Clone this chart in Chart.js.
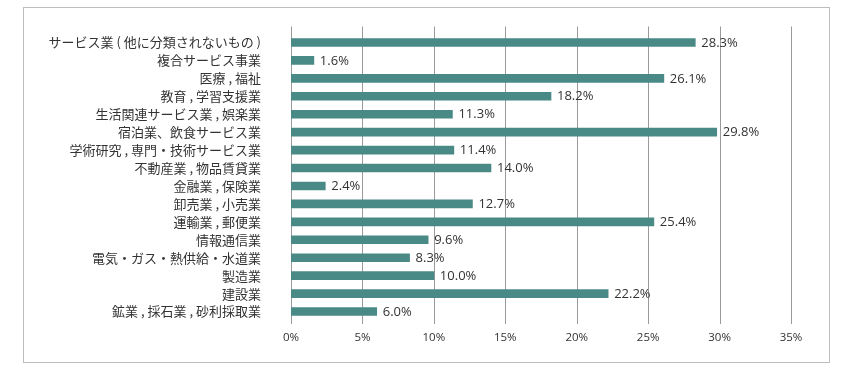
<!DOCTYPE html>
<html>
<head>
<meta charset="utf-8">
<script src="https://cdn.jsdelivr.net/npm/chart.js@4"></script>
<style>
html,body{margin:0;padding:0;background:#fff;}
#wrap{width:851px;height:370px;position:relative;}
</style>
</head>
<body>
<div id="wrap"><canvas id="c" width="851" height="370"></canvas></div>
<script>
const categories = [
  "サービス業 ( 他に分類されないもの )",
  "複合サービス事業",
  "医療 , 福祉",
  "教育 , 学習支援業",
  "生活関連サービス業 , 娯楽業",
  "宿泊業、飲食サービス業",
  "学術研究 , 専門・技術サービス業",
  "不動産業 , 物品賃貸業",
  "金融業 , 保険業",
  "卸売業 , 小売業",
  "運輸業 , 郵便業",
  "情報通信業",
  "電気・ガス・熱供給・水道業",
  "製造業",
  "建設業",
  "鉱業 , 採石業 , 砂利採取業"
];
const values = [28.3, 1.6, 26.1, 18.2, 11.3, 29.8, 11.4, 14.0, 2.4, 12.7, 25.4, 9.6, 8.3, 10.0, 22.2, 6.0];
const tickValues = [0, 5, 10, 15, 20, 25, 30, 35];

const frameAndGrid = {
  id: 'frameAndGrid',
  beforeDraw(chart) {
    const ctx = chart.ctx;
    ctx.save();
    ctx.fillStyle = '#fff';
    ctx.fillRect(0, 0, chart.width, chart.height);
    ctx.strokeStyle = '#bdbdbd';
    ctx.lineWidth = 1;
    ctx.strokeRect(23.5, 7.5, 806, 355);
    ctx.restore();
  },
  beforeDatasetsDraw(chart) {
    const ctx = chart.ctx;
    const xs = chart.scales.x;
    const a = chart.chartArea;
    ctx.save();
    ctx.strokeStyle = '#9a9a9a';
    ctx.lineWidth = 1;
    tickValues.forEach(v => {
      const x = Math.round(xs.getPixelForValue(v)) + 0.5;
      ctx.beginPath();
      ctx.moveTo(x, a.top - 7);
      ctx.lineTo(x, a.bottom + 3.5);
      ctx.stroke();
    });
    ctx.restore();
  },
  afterDatasetsDraw(chart) {
    const ctx = chart.ctx;
    const meta = chart.getDatasetMeta(0);
    ctx.save();
    ctx.fillStyle = '#333';
    ctx.font = '13px "Open Sans", sans-serif';
    ctx.textAlign = 'left';
    ctx.textBaseline = 'middle';
    meta.data.forEach((bar, i) => {
      ctx.fillText(values[i].toFixed(1) + '%', bar.x + 6, bar.y + 0.5);
    });
    ctx.restore();
  }
};

new Chart(document.getElementById('c'), {
  type: 'bar',
  data: {
    labels: categories,
    datasets: [{
      data: values,
      backgroundColor: '#4a8a86',
      borderWidth: 0,
      barThickness: 8
    }]
  },
  options: {
    indexAxis: 'y',
    responsive: false,
    animation: false,
    devicePixelRatio: 1,
    layout: { padding: { left: 0, right: 60, top: 33.5, bottom: 0 } },
    plugins: { legend: { display: false }, tooltip: { enabled: false } },
    scales: {
      x: {
        min: 0, max: 35,
        border: { display: false },
        grid: { display: false, drawTicks: false },
        afterFit(s) { s.height = 49.5; },
        afterBuildTicks(s) { s.ticks = tickValues.map(v => ({ value: v })); },
        ticks: {
          padding: 10,
          color: '#333',
          font: { family: '"Open Sans", sans-serif', size: 11.5 },
          callback: v => v + '%'
        }
      },
      y: {
        border: { display: false },
        grid: { display: false, drawTicks: false },
        afterFit(s) { s.width = 291; s.paddingTop = 0; s.paddingBottom = 0; },
        ticks: {
          padding: 30,
          autoSkip: false,
          color: '#333',
          font: { family: '"Noto Sans CJK JP", sans-serif', size: 13 }
        }
      }
    }
  },
  plugins: [frameAndGrid]
});
</script>
</body>
</html>
